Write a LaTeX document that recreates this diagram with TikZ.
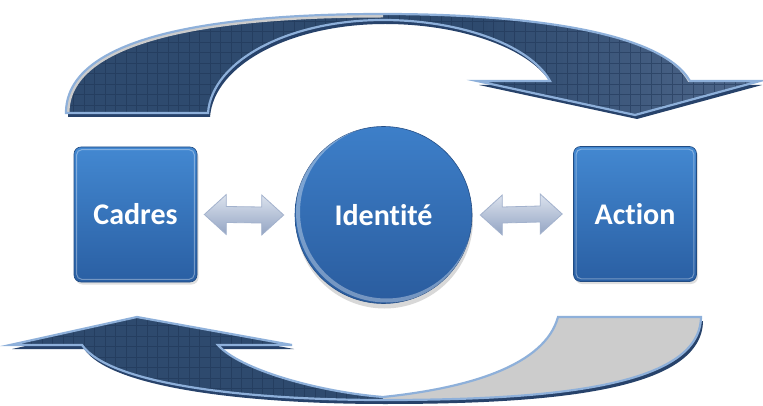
\documentclass[tikz,border=0pt]{standalone}
\usepackage{fontspec}
\setmainfont{Carlito}[Ligatures=CommonOff]
\usetikzlibrary{calc,shadows}

\definecolor{navy}{HTML}{2E4A6E}
\definecolor{navyshadow}{HTML}{27426A}
\definecolor{rim}{HTML}{8EB0DA}
\definecolor{lightnavy}{HTML}{7D91AD}
\definecolor{midnavy}{HTML}{4A6387}
\definecolor{gridc}{HTML}{1F3556}
\definecolor{boxtop}{HTML}{4388D1}
\definecolor{boxbot}{HTML}{2A5FA3}
\definecolor{circtop}{HTML}{3D7FC9}
\definecolor{circbot}{HTML}{2A5C9E}
\definecolor{arrtop}{HTML}{DCE3EE}
\definecolor{arrbot}{HTML}{93A4C3}
\definecolor{arrline}{HTML}{A3B2CD}
\definecolor{footgrey}{HTML}{CCCCCC}

\pgfdeclarehorizontalshading{topband}{100bp}{color(0bp)=(navy); color(55bp)=(navy); color(72bp)=(midnavy); color(100bp)=(lightnavy)}

\tikzset{
  bluebox/.style={minimum width=123pt, minimum height=135pt, rounded corners=7pt,
    top color=boxtop, bottom color=boxbot, draw=boxbot!80!black, line width=0.6pt,
    text=white, font=\bfseries\fontsize{30}{36}\selectfont,
    drop shadow={opacity=0.25, shadow xshift=1.5pt, shadow yshift=-2.5pt}},
  bluecircle/.style={circle, minimum size=177pt, inner sep=0pt,
    top color=circtop, bottom color=circbot, draw=circbot!85!black, line width=0.6pt,
    text=white, font=\bfseries\fontsize{30}{36}\selectfont,
    drop shadow={opacity=0.3, shadow xshift=1pt, shadow yshift=-5pt}},
  dblstyle/.style={top color=arrtop, bottom color=arrbot, draw=arrline, line width=0.8pt, line join=miter},
  bandrim/.style={draw=rim, line width=2.2pt, line join=miter},
  gridlines/.style={gridc, line width=0.6pt, opacity=0.55}
}

\def\toppath{(66,113) .. controls (66,40) and (200,14) .. (383,14) .. controls (520,14) and (660,30) .. (690,81) -- (760,81) -- (635,115) -- (477,81) -- (550,81) .. controls (530,45) and (460,20) .. (383,20) .. controls (290,20) and (212,60) .. (208,113) -- cycle}
\def\botpath{(137,317) -- (292,345) -- (218,345) .. controls (240,370) and (320,392) .. (383,397) .. controls (470,388) and (545,365) .. (558,317) -- (701,317) .. controls (700,385) and (560,400) .. (383,400) .. controls (250,400) and (110,385) .. (82,345) -- (10,345) -- cycle}

\newcommand\dblarrow[2]{%
  \path[dblstyle] (#1) -- ++(22,-20) -- ++(0,12) -- ($(#2)+(-22,-8)$) -- ++(0,-12) -- (#2)
    -- ++(-22,20) -- ++(0,-12) -- ($(#1)+(22,8)$) -- ++(0,12) -- cycle;}

\begin{document}
\begin{tikzpicture}[x=1pt,y=-1pt]
\useasboundingbox (0,0) rectangle (763,406);
\fill[white] (0,0) rectangle (763,406);

% ---- top curved arrow
\fill[navyshadow, shift={(2,4)}] \toppath;
\shade[shading=topband] \toppath;
\begin{scope}
  \clip \toppath;
  \draw[gridlines, step=10.5pt] (60,120) grid (763,0);
  \draw[footgrey, line width=7pt] (66,113) .. controls (66,40) and (200,14) .. (383,14);
  \draw[white, opacity=0.7, line width=4pt] (450,14) .. controls (560,16) and (665,35) .. (690,81);
\end{scope}
\draw[bandrim] \toppath;

% ---- bottom curved arrow
\fill[navyshadow, shift={(2,4)}] \botpath;
\fill[navy] \botpath;
\begin{scope}
  \clip \botpath;
  \draw[gridlines, step=10.5pt] (0,406) grid (400,300);
  \fill[footgrey] (383,300) rectangle (763,406);
\end{scope}
\draw[bandrim] \botpath;

% ---- nodes
\node[bluebox] (cadres) at (135.5,214.5) {Cadres};
\node[bluebox] (action) at (635,214) {Action};
\node[bluecircle] (ident) at (383.5,215) {Identité};

% gloss details
\foreach \n in {cadres,action}{
  \draw[white, opacity=0.35, line width=1pt, rounded corners=5pt]
    ($(\n.north west)+(3,3)$) rectangle ($(\n.south east)+(-3,-3)$);
}
\begin{scope}
  \clip (ident.center) circle[radius=88.5pt];
  \draw[white, opacity=0.35, line width=4pt] ($(ident.center)+(3,-3)$) circle[radius=88.5pt];
\end{scope}

% ---- double arrows between nodes
\coordinate (l1) at ($(cadres.east)+(7,0)$);
\coordinate (l2) at ($(ident.west)+(-11,0)$);
\coordinate (r1) at ($(ident.east)+(8,0)$);
\coordinate (r2) at ($(action.west)+(-11,0)$);
\dblarrow{l1}{l2}
\dblarrow{r1}{r2}
\end{tikzpicture}
\end{document}
